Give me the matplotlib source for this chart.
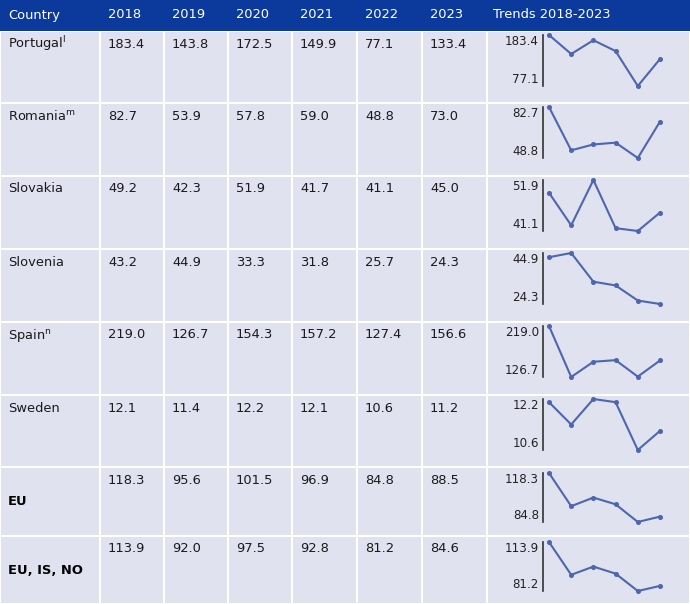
import matplotlib.pyplot as plt
from matplotlib.patches import Rectangle

# Table data
countries = [r'Portugal$^{\mathrm{l}}$', r'Romania$^{\mathrm{m}}$', 'Slovakia', 'Slovenia',
             r'Spain$^{\mathrm{n}}$', 'Sweden', 'EU', 'EU, IS, NO']
years = ['2018', '2019', '2020', '2021', '2022', '2023']
portugal = [183.4, 143.8, 172.5, 149.9, 77.1, 133.4]
romania = [82.7, 53.9, 57.8, 59.0, 48.8, 73.0]
slovakia = [49.2, 42.3, 51.9, 41.7, 41.1, 45.0]
slovenia = [43.2, 44.9, 33.3, 31.8, 25.7, 24.3]
spain = [219.0, 126.7, 154.3, 157.2, 127.4, 156.6]
sweden = [12.1, 11.4, 12.2, 12.1, 10.6, 11.2]
eu = [118.3, 95.6, 101.5, 96.9, 84.8, 88.5]
eu_is_no = [113.9, 92.0, 97.5, 92.8, 81.2, 84.6]
rows = [portugal, romania, slovakia, slovenia, spain, sweden, eu, eu_is_no]
bold_rows = [False] * 6 + [True, True]

W, H = 690, 604
fig = plt.figure(figsize=(W / 100, H / 100), dpi=100)
ax = fig.add_axes([0, 0, 1, 1])
ax.set_xlim(0, W)
ax.set_ylim(H, 0)
ax.axis('off')

header_col = '#0b3a9c'
cell_col = '#e1e2f0'
line_col = '#4d66ae'
font = 'DejaVu Sans'
fs = 9.4

col_x = [0, 100, 164, 228, 292, 357, 422, 487, W]
row_y = [31, 103, 176, 249, 322, 395, 467, 536, H]

# header
ax.add_patch(Rectangle((0, 0), W, row_y[0], color=header_col, lw=0))
ax.text(8, 15, 'Country', color='white', fontsize=fs, va='center', family=font)
for i, y in enumerate(years):
    ax.text(col_x[i + 1] + 8, 15, y, color='white', fontsize=fs, va='center', family=font)
ax.text(col_x[7] + 6, 15, 'Trends 2018-2023', color='white', fontsize=fs, va='center', family=font)

# body cells
for r in range(len(rows)):
    y0, y1 = row_y[r], row_y[r + 1]
    for c in range(len(col_x) - 1):
        ax.add_patch(Rectangle((col_x[c] + 1, y0 + 1), col_x[c + 1] - col_x[c] - 2, y1 - y0 - 2,
                               color=cell_col, lw=0))
    if bold_rows[r]:
        ax.text(8, (y0 + y1) / 2, countries[r], fontsize=fs, fontweight='bold', va='center', family=font)
    else:
        ax.text(8, y0 + 13, countries[r], fontsize=fs, va='center', family=font, color='#1a1a1a')
    for c, v in enumerate(rows[r]):
        ax.text(col_x[c + 1] + 8, y0 + 13, f'{v:.1f}', fontsize=fs, va='center', family=font,
                color='#1a1a1a')

    # sparkline
    top = y0 + (4 if r < 6 else 6)
    bot = y0 + 55
    sx0, sx1 = 543, 660
    sax = fig.add_axes([sx0 / W, 1 - bot / H, (sx1 - sx0) / W, (bot - top) / H])
    vals = rows[r]
    lo, hi = min(vals), max(vals)
    sax.plot(range(len(vals)), vals, color=line_col, lw=1.5, marker='o', ms=2.6, clip_on=False)
    sax.set_xlim(-0.27, 5)
    sax.set_ylim(lo, hi)
    sax.patch.set_visible(False)
    for s in ['top', 'right', 'bottom']:
        sax.spines[s].set_visible(False)
    sax.spines['left'].set_color('#333333')
    sax.spines['left'].set_linewidth(1.2)
    sax.set_xticks([])
    sax.set_yticks([lo, hi])
    sax.set_yticklabels([f'{lo:.1f}', f'{hi:.1f}'], fontsize=8.6, family=font, color='#222222')
    sax.tick_params(axis='y', length=0, pad=3)
    sax.get_yticklabels()[0].set_va('bottom')
    sax.get_yticklabels()[1].set_va('top')

fig.savefig('out.png', dpi=100)
